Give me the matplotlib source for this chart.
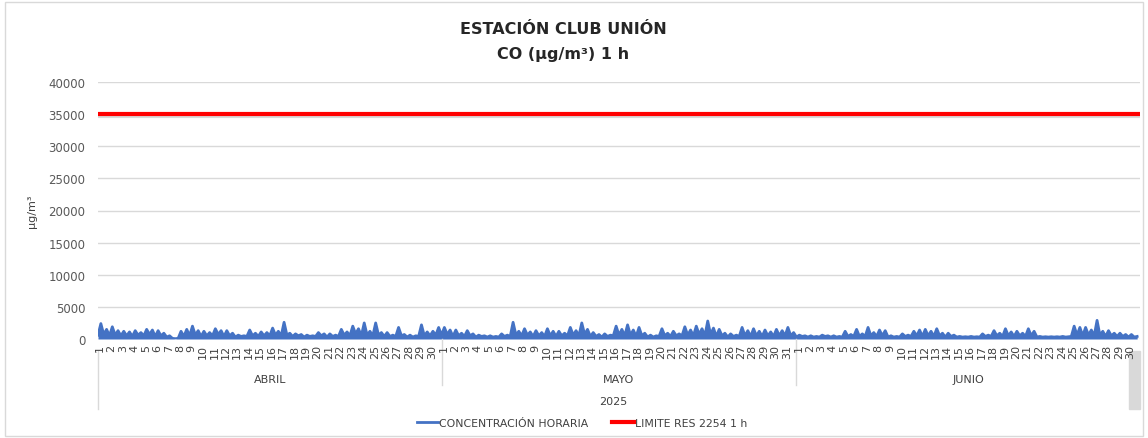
import matplotlib.pyplot as plt
import matplotlib.transforms as mtransforms
from matplotlib.patches import Rectangle
import numpy as np

BLUE = "#4472C4"
RED = "#FF0000"
GRID = "#D9D9D9"
TEXT = "#595959"

months = ["ABRIL", "MAYO", "JUNIO"]
month_days = [30, 31, 30]
year_label = "2025"
limit_value = 35000
yticks = [0, 5000, 10000, 15000, 20000, 25000, 30000, 35000, 40000]

# CO per day, read at hours 0, 6, 12, 18 (µg/m³)
april = [
    [600, 2400, 700, 1500], [500, 1900, 600, 1300], [500, 1200, 500, 1100],
    [400, 1300, 600, 1000], [500, 1500, 700, 1400], [400, 1300, 500, 900],
    [300, 500, 100, 50], [100, 1200, 400, 1500], [500, 2000, 600, 1300],
    [400, 1200, 500, 1000], [500, 1600, 700, 1300], [400, 1300, 500, 900],
    [300, 600, 400, 500], [400, 1400, 500, 900], [400, 1100, 500, 1000],
    [500, 1700, 600, 1200], [500, 2600, 600, 900], [400, 800, 500, 700],
    [300, 600, 400, 500], [400, 1000, 500, 800], [300, 800, 400, 600],
    [400, 1500, 600, 1100], [500, 2000, 800, 1600], [500, 2500, 600, 1200],
    [500, 2500, 600, 1000], [400, 1000, 400, 600], [400, 1800, 500, 700],
    [300, 600, 300, 500], [400, 2200, 500, 1100], [500, 1200, 600, 1800],
]
may = [
    [600, 1800, 700, 1400], [400, 1400, 500, 900], [400, 1300, 500, 800],
    [300, 600, 400, 500], [300, 500, 300, 400], [300, 800, 400, 600],
    [400, 2600, 600, 1200], [500, 1600, 600, 1100], [400, 1300, 500, 1000],
    [400, 1600, 500, 1200], [400, 1200, 500, 900], [500, 1800, 600, 1300],
    [500, 2500, 700, 1500], [400, 1000, 400, 700], [300, 800, 400, 600],
    [500, 2000, 600, 1500], [500, 2200, 600, 1400], [400, 1800, 500, 900],
    [300, 600, 300, 500], [400, 1600, 500, 900], [400, 1200, 500, 800],
    [500, 1900, 600, 1400], [500, 2000, 700, 1600], [500, 2800, 700, 1700],
    [400, 1500, 500, 900], [300, 800, 400, 600], [400, 1800, 500, 1300],
    [400, 1600, 500, 1200], [400, 1400, 500, 1100], [400, 1500, 500, 1300],
    [500, 1800, 500, 1000],
]
june = [
    [300, 600, 400, 500], [300, 500, 300, 400], [300, 600, 400, 500],
    [300, 500, 300, 400], [300, 1200, 400, 700], [400, 1500, 400, 800],
    [400, 1800, 500, 1000], [400, 1400, 500, 1300], [300, 500, 300, 400],
    [300, 800, 400, 600], [400, 1200, 500, 1400], [400, 1500, 500, 1200],
    [400, 1600, 500, 900], [300, 900, 400, 600], [300, 400, 300, 350],
    [300, 400, 300, 350], [300, 800, 400, 600], [400, 1300, 500, 900],
    [400, 1600, 500, 1100], [400, 1200, 500, 900], [400, 1600, 500, 1200],
    [300, 400, 300, 350], [300, 350, 300, 350], [300, 400, 300, 350],
    [400, 2000, 600, 1800], [500, 1800, 600, 1400], [500, 2900, 600, 1200],
    [400, 1300, 500, 900], [400, 900, 400, 700], [300, 700, 300, 400],
]

values = np.array(april + may + june, dtype=float).ravel()
hours = np.arange(len(values)) * 6
total_hours = sum(month_days) * 24

fig = plt.figure(figsize=(11.48, 4.39), dpi=100)
fig.patches.append(Rectangle((0.004, 0.004), 0.992, 0.99, transform=fig.transFigure,
                             fill=False, edgecolor=GRID, linewidth=1))
ax = fig.add_axes([98 / 1148, 1 - 340 / 439, (1140 - 98) / 1148, (340 - 83) / 439])

ax.fill_between(hours, 0, values, color=BLUE, linewidth=0)
ax.plot(hours, values, color=BLUE, linewidth=2, label="CONCENTRACIÓN HORARIA")
ax.plot([0, total_hours], [limit_value, limit_value], color="#A0A0A0", linewidth=3,
        alpha=0.4, transform=ax.transData + mtransforms.ScaledTranslation(0, -1.5 / 100, fig.dpi_scale_trans))
ax.plot([0, total_hours], [limit_value, limit_value], color=RED, linewidth=3,
        label="LIMITE RES 2254 1 h")

ax.set_xlim(0, total_hours)
ax.set_ylim(0, 40000)
ax.set_yticks(yticks)
ax.set_yticklabels([str(t) for t in yticks], fontsize=8.5, color=TEXT)
ax.grid(axis="y", color=GRID, linewidth=1)
ax.set_axisbelow(True)
for s in ax.spines.values():
    s.set_visible(False)
ax.tick_params(axis="y", length=0, pad=9)
ax.set_xticks([])
ax.set_ylabel("µg/m³", fontsize=8, color="#404040", labelpad=8)

# category labels under the axis
trans = mtransforms.blended_transform_factory(ax.transData, ax.transAxes)
px = 1 / 257
start = 0
for m, nd in zip(months, month_days):
    for d in range(nd):
        ax.text(start + d * 24 + 4, -5 * px, str(d + 1), rotation=90, ha="center", va="top",
                fontsize=8, color="#404040", transform=trans)
    ax.text(start + nd * 12, -40 * px, m, ha="center", va="center", fontsize=8,
            color="#404040", transform=trans)
    if start > 0:
        ax.plot([start, start], [0, -46 * px], color=GRID, linewidth=1,
                transform=trans, clip_on=False)
    start += nd * 24
ax.plot([0, 0], [-12 * px, -70 * px], color=GRID, linewidth=1, transform=trans, clip_on=False)
ax.add_patch(Rectangle((total_hours - 24, -70 * px), 24, 58 * px, transform=trans,
                       color="#D9D9D9", clip_on=False, zorder=0))
ax.text(total_hours / 2 - 12, -62 * px, year_label, ha="center", va="center", fontsize=8,
        color="#404040", transform=trans)

fig.text(563 / 1148, 1 - 30 / 439, "ESTACIÓN CLUB UNIÓN", ha="center", va="center",
         fontsize=11.5, fontweight="bold", color="#262626")
fig.text(563 / 1148, 1 - 54 / 439, "CO (µg/m³) 1 h", ha="center", va="center",
         fontsize=11.5, fontweight="bold", color="#262626")

handles = [ax.lines[0], ax.lines[2]]
fig.legend(handles, [h.get_label() for h in handles], loc="center", ncol=2,
           bbox_to_anchor=(582 / 1148, 1 - 424 / 439), frameon=False, fontsize=7.8,
           handlelength=2, handletextpad=0.1, columnspacing=2.2, labelcolor="#404040")

fig.savefig("out.png", dpi=100)
